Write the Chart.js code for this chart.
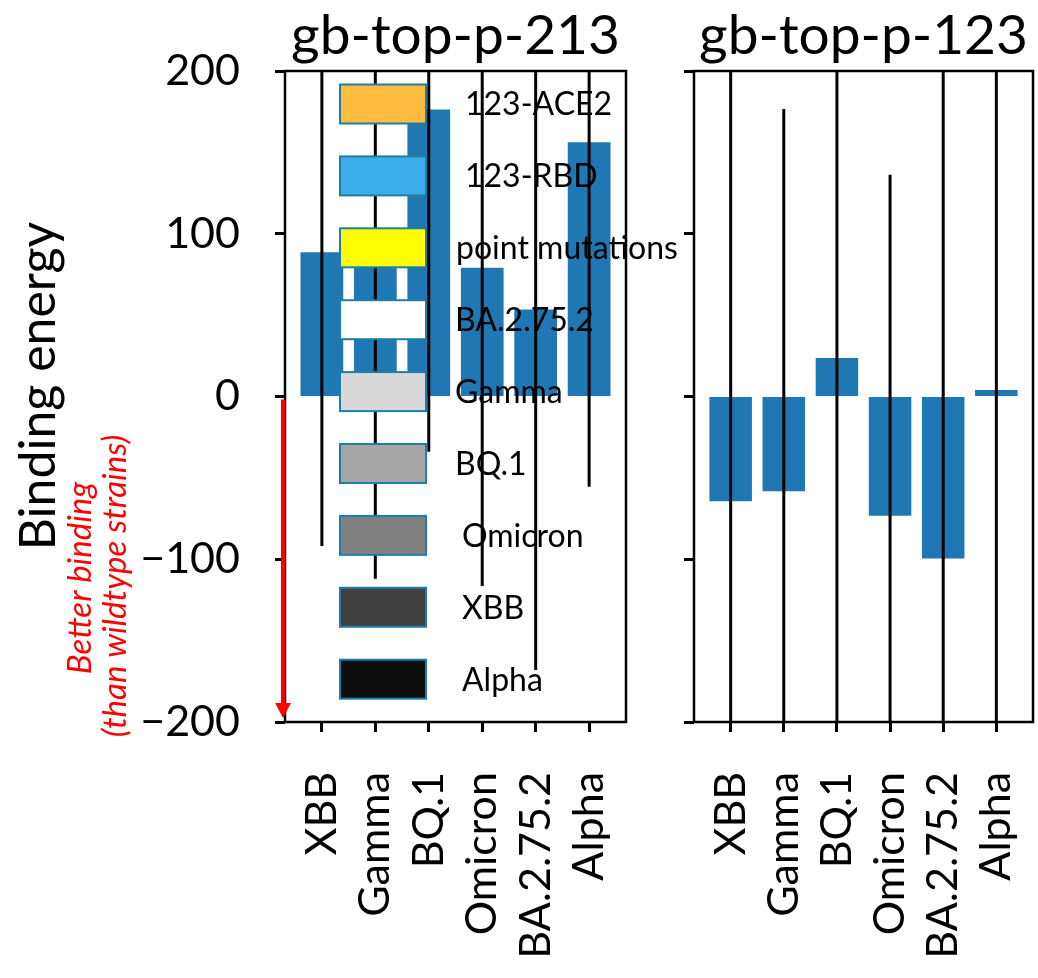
<!DOCTYPE html>
<html><head><meta charset="utf-8">
<script src="https://cdn.jsdelivr.net/npm/chart.js@4.4.0/dist/chart.umd.min.js"></script>
<style>
html,body{margin:0;padding:0;background:#fff;}
#wrap{position:relative;width:1038px;height:978px;background:#fff;}
canvas{position:absolute;top:0;}
#c1{left:0;}
#c2{left:650px;}
</style></head><body>
<div id="wrap"><canvas id="c1" width="700" height="978"></canvas><canvas id="c2" width="388" height="978"></canvas></div>
<script>
const categories = ['XBB', 'Gamma', 'BQ.1', 'Omicron', 'BA.2.75.2', 'Alpha'];
const leftValues = [88.7, 92, 176.3, 79.1, 53.5, 156.2];
const leftErrors = [180.6, 204, 210.2, 195.5, 221.5, 211.6];
const rightValues = [-64.3, -58.2, 23.7, -73.3, -99.5, 4.0];
const rightErrors = [280, 234.9, 250, 209.6, 320, 230];
const yTicks = [-200, -100, 0, 100, 200];
const panelTitles = ['gb-top-p-213', 'gb-top-p-123'];
const legendLabels = ['123-ACE2', '123-RBD', 'point mutations', 'BA.2.75.2', 'Gamma', 'BQ.1', 'Omicron', 'XBB', 'Alpha'];
const legendColors = ['#ffbb3f', '#3daeeb', '#ffff00', '#ffffff', '#d9d9d9', '#a6a6a6', '#808080', '#404040', '#0d0d0d'];

const FONT = 'Lato';
const H = 978, TOP = 71, BOTTOM = 722;

function fmtTick(v) { return v < 0 ? '\u2212' + (-v) : String(v); }

function panelPlugin(values, errors, title, isLeft) {
  return {
    id: 'panel' + (isLeft ? 'L' : 'R'),
    afterDatasetsDraw(chart) {
      const ctx = chart.ctx, a = chart.chartArea;
      const xs = chart.scales.x, ys = chart.scales.y;
      // error bars
      ctx.save();
      ctx.beginPath();
      ctx.rect(a.left, a.top, a.right - a.left, a.bottom - a.top);
      ctx.clip();
      ctx.strokeStyle = '#000';
      ctx.lineWidth = 3;
      values.forEach((v, i) => {
        const x = xs.getPixelForValue(i);
        ctx.beginPath();
        ctx.moveTo(x, ys.getPixelForValue(v - errors[i]));
        ctx.lineTo(x, ys.getPixelForValue(v + errors[i]));
        ctx.stroke();
      });
      ctx.restore();
      // frame
      ctx.save();
      ctx.strokeStyle = '#000';
      ctx.lineWidth = 2.5;
      ctx.strokeRect(a.left, a.top, a.right - a.left, a.bottom - a.top);
      ctx.restore();
      // title
      ctx.save();
      ctx.fillStyle = '#000';
      ctx.font = '55px ' + FONT;
      ctx.textAlign = 'center';
      ctx.textBaseline = 'alphabetic';
      ctx.fillText(title, (a.left + a.right) / 2, 54);
      ctx.restore();
      if (!isLeft) return;
      // y title
      ctx.save();
      ctx.fillStyle = '#000';
      ctx.font = '50px ' + FONT;
      ctx.textAlign = 'center';
      ctx.textBaseline = 'alphabetic';
      ctx.translate(55, 386);
      ctx.rotate(-Math.PI / 2);
      ctx.fillText('Binding energy', 0, 0);
      ctx.restore();
      // red annotation
      ctx.save();
      ctx.fillStyle = '#ff0000';
      ctx.font = 'italic 33px ' + FONT;
      ctx.textAlign = 'center';
      ctx.textBaseline = 'alphabetic';
      ctx.save(); ctx.translate(91, 578); ctx.rotate(-Math.PI / 2); ctx.fillText('Better binding', 0, 0); ctx.restore();
      ctx.save(); ctx.translate(126, 586); ctx.rotate(-Math.PI / 2); ctx.fillText('(than wildtype strains)', 0, 0); ctx.restore();
      const y0 = ys.getPixelForValue(0) + 3, y1 = ys.getPixelForValue(-200) - 4;
      ctx.strokeStyle = '#ff0000';
      ctx.lineWidth = 4;
      ctx.beginPath(); ctx.moveTo(283, y0); ctx.lineTo(283, y1 - 14); ctx.stroke();
      ctx.beginPath(); ctx.moveTo(275, y1 - 15); ctx.lineTo(291, y1 - 15); ctx.lineTo(283, y1); ctx.closePath(); ctx.fill();
      ctx.restore();
      // legend
      ctx.save();
      const textX = [465, 465, 456, 455, 455, 455, 462, 462, 462];
      legendLabels.forEach((lab, i) => {
        const cy = 104 + i * 71.9;
        ctx.fillStyle = legendColors[i];
        ctx.fillRect(340, cy - 19.5, 86, 39);
        ctx.strokeStyle = '#1b80a8';
        ctx.lineWidth = 2;
        ctx.strokeRect(340, cy - 19.5, 86, 39);
        ctx.fillStyle = '#000';
        ctx.font = '32px ' + FONT;
        ctx.textAlign = 'left';
        ctx.textBaseline = 'middle';
        ctx.fillText(lab, textX[i], cy + 1);
      });
      ctx.restore();
    }
  };
}

function makeChart(id, values, errors, title, isLeft) {
  const canvasW = isLeft ? 700 : 388;
  const l = isLeft ? 285 : 44, r = isLeft ? 626 : 383;
  return new Chart(document.getElementById(id), {
    type: 'bar',
    data: { datasets: [{
      data: values.map((v, i) => ({ x: i, y: v })),
      backgroundColor: '#1f77b4', borderWidth: 0,
      barPercentage: 0.8, categoryPercentage: 1.0
    }] },
    options: {
      responsive: false, animation: false, devicePixelRatio: 1,
      layout: { padding: { left: 0, right: canvasW - r, top: TOP, bottom: 0 } },
      plugins: { legend: { display: false }, tooltip: { enabled: false }, title: { display: false } },
      scales: {
        x: {
          type: 'linear', min: -0.69, max: 5.69, offset: false,
          afterBuildTicks: s => { s.ticks = categories.map((c, i) => ({ value: i })); },
          afterFit: s => { s.height = H - BOTTOM; s.paddingLeft = 0; s.paddingRight = 0; },
          grid: { display: true, offset: false, drawOnChartArea: false, drawTicks: true, tickLength: 10, tickWidth: 3, tickColor: '#000' },
          border: { display: false },
          ticks: { autoSkip: false, maxRotation: 90, minRotation: 90, padding: 40, color: '#000',
            font: { family: FONT, size: 43 }, callback: v => categories[v] }
        },
        y: {
          min: -200, max: 200,
          afterBuildTicks: s => { s.ticks = yTicks.map(v => ({ value: v })); },
          afterFit: s => { s.width = l; s.paddingTop = 0; s.paddingBottom = 0; },
          grid: { display: true, offset: false, drawOnChartArea: false, drawTicks: true, tickLength: 10, tickWidth: 3, tickColor: '#000' },
          border: { display: false },
          ticks: { padding: 35, color: '#000', font: { family: FONT, size: 43 },
            callback: v => isLeft ? fmtTick(v) : '' }
        }
      }
    },
    plugins: [panelPlugin(values, errors, title, isLeft)]
  });
}

Promise.all([
  document.fonts.load('42px Lato'), document.fonts.load('italic 30px Lato')
]).catch(() => {}).then(() => {
  makeChart('c1', leftValues, leftErrors, panelTitles[0], true);
  makeChart('c2', rightValues, rightErrors, panelTitles[1], false);
});
</script>
</body></html>
